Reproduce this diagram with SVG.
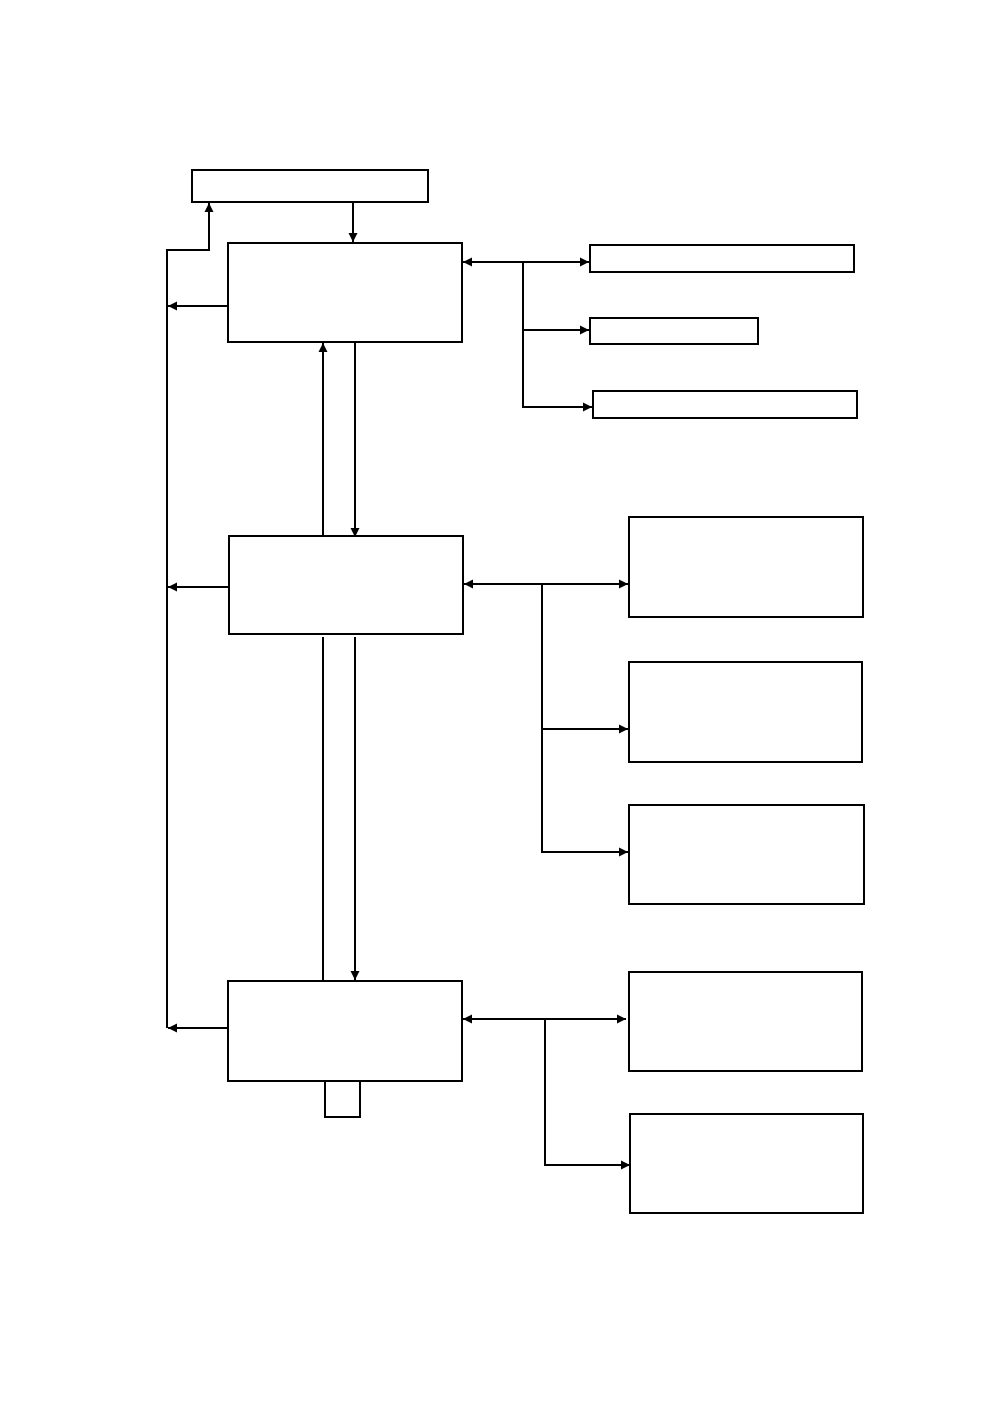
<svg xmlns="http://www.w3.org/2000/svg" width="998" height="1418" viewBox="0 0 998 1418">
<style>
.n{fill:#fff;stroke:#000;stroke-width:2}
.c{fill:none;stroke:#000;stroke-width:2}
</style>
<defs>
<marker id="ah" markerUnits="userSpaceOnUse" markerWidth="10" markerHeight="10" refX="9" refY="5" orient="auto-start-reverse">
<path d="M0,0.5 L9,5 L0,9.5 z" fill="#000"/>
</marker>
</defs>
<rect width="998" height="1418" fill="#fff"/>
<g id="top"><rect class="n" x="192" y="170" width="236" height="32"/></g>
<g id="boxA"><rect class="n" x="228" y="243" width="234" height="99"/></g>
<g id="boxB"><rect class="n" x="229" y="536" width="234" height="98"/></g>
<g id="boxC"><rect class="n" x="228" y="981" width="234" height="100"/></g>
<g id="r1"><rect class="n" x="590" y="245" width="264" height="27"/></g>
<g id="r2"><rect class="n" x="590" y="318" width="168" height="26"/></g>
<g id="r3"><rect class="n" x="593" y="391" width="264" height="27"/></g>
<g id="m1"><rect class="n" x="629" y="517" width="234" height="100"/></g>
<g id="m2"><rect class="n" x="629" y="662" width="233" height="100"/></g>
<g id="m3"><rect class="n" x="629" y="805" width="235" height="99"/></g>
<g id="l1"><rect class="n" x="629" y="972" width="233" height="99"/></g>
<g id="l2"><rect class="n" x="630" y="1114" width="233" height="99"/></g>
<g id="loop"><path class="c" d="M325,1081 V1117 H360 V1081"/></g>
<g id="connectors">
<path class="c" d="M353,203 V242" marker-end="url(#ah)"/>
<path class="c" d="M167,1028 V250 H209 V203" marker-end="url(#ah)"/>
<path class="c" d="M228,306 H168" marker-end="url(#ah)"/>
<path class="c" d="M229,587 H168" marker-end="url(#ah)"/>
<path class="c" d="M228,1028 H168" marker-end="url(#ah)"/>
<path class="c" d="M323,536 V343" marker-end="url(#ah)"/>
<path class="c" d="M355,342 V537" marker-end="url(#ah)"/>
<path class="c" d="M323,637 V981"/>
<path class="c" d="M355,637 V980" marker-end="url(#ah)"/>
<path class="c" d="M463,262 H589" marker-start="url(#ah)" marker-end="url(#ah)"/>
<path class="c" d="M523,262 V407 H592" marker-end="url(#ah)"/>
<path class="c" d="M522,330 H589" marker-end="url(#ah)"/>
<path class="c" d="M464,584 H628" marker-start="url(#ah)" marker-end="url(#ah)"/>
<path class="c" d="M542,584 V852 H628" marker-end="url(#ah)"/>
<path class="c" d="M542,729 H628" marker-end="url(#ah)"/>
<path class="c" d="M463,1019 H626" marker-start="url(#ah)" marker-end="url(#ah)"/>
<path class="c" d="M545,1019 V1165 H630" marker-end="url(#ah)"/>
</g>
</svg>
